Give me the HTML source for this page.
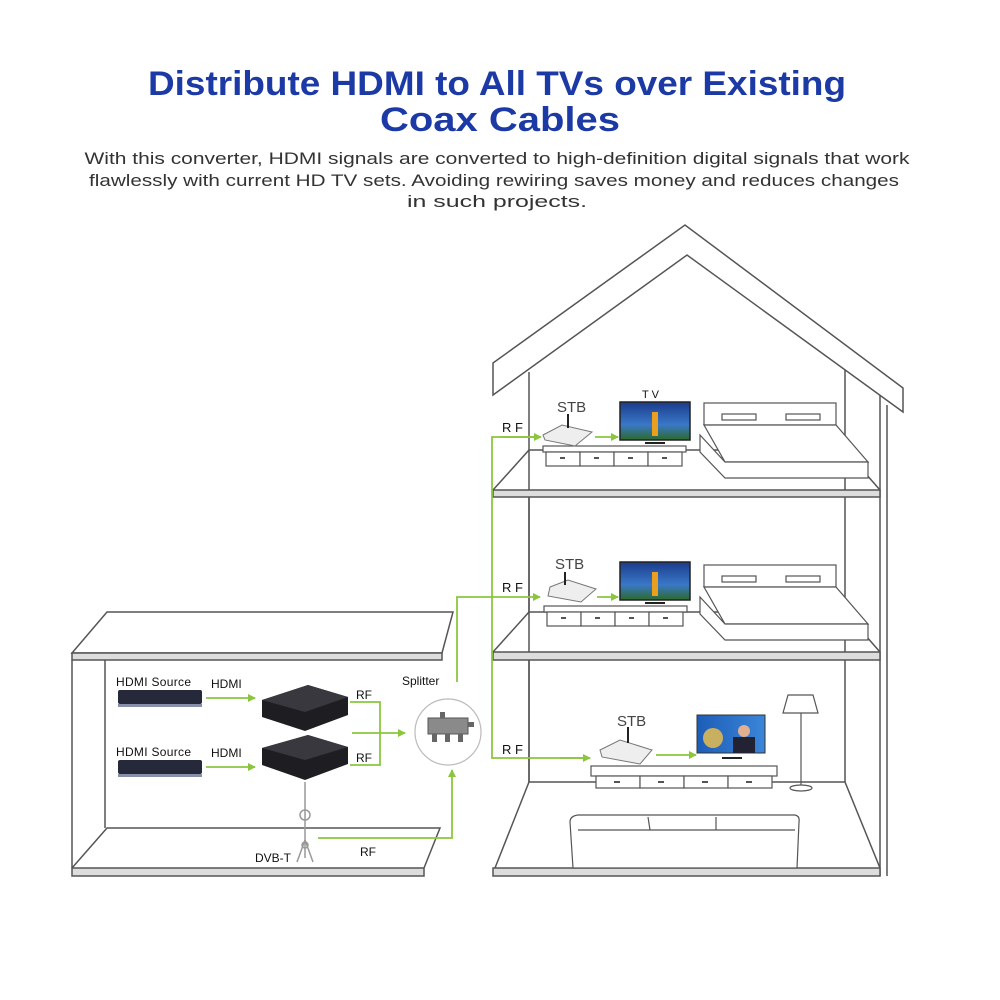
<!DOCTYPE html>
<html><head><meta charset="utf-8"><style>html,body{margin:0;padding:0;background:#fff}svg{display:block}</style></head>
<body>
<svg width="1000" height="1000" viewBox="0 0 1000 1000" xmlns="http://www.w3.org/2000/svg" font-family="Liberation Sans, sans-serif">
<defs>
<marker id="ah" markerWidth="8" markerHeight="8" refX="7" refY="4" orient="auto" markerUnits="userSpaceOnUse"><path d="M0,0 L8,4 L0,8 z" fill="#8cc63f"/></marker>
<linearGradient id="scr" x1="0" y1="0" x2="0" y2="1"><stop offset="0" stop-color="#1a3c8a"/><stop offset="0.6" stop-color="#3a78c8"/><stop offset="1" stop-color="#2c6a2a"/></linearGradient>
<linearGradient id="news" x1="0" y1="0" x2="1" y2="0"><stop offset="0" stop-color="#1d5db8"/><stop offset="1" stop-color="#3a86d8"/></linearGradient>
</defs>
<!-- Title -->
<text x="497" y="95" text-anchor="middle" font-size="34" font-weight="bold" fill="#1c3aa5" textLength="698" lengthAdjust="spacingAndGlyphs">Distribute HDMI to All TVs over Existing</text>
<text x="500" y="131" text-anchor="middle" font-size="34" font-weight="bold" fill="#1c3aa5" textLength="240" lengthAdjust="spacingAndGlyphs">Coax Cables</text>
<g font-size="17" fill="#333" text-anchor="middle">
<text x="497" y="164" textLength="825" lengthAdjust="spacingAndGlyphs">With this converter, HDMI signals are converted to high-definition digital signals that work</text>
<text x="494" y="186" textLength="810" lengthAdjust="spacingAndGlyphs">flawlessly with current HD TV sets. Avoiding rewiring saves money and reduces changes</text>
<text x="497" y="207" textLength="180" lengthAdjust="spacingAndGlyphs">in such projects.</text>
</g>

<g fill="none" stroke="#555" stroke-width="1.5">
<!-- House roof -->
<polygon points="493,363 685,225 903,388 903,412 687,255 493,395" fill="#fff"/>
<!-- walls -->
<line x1="529" y1="372" x2="529" y2="782"/>
<line x1="845" y1="370" x2="845" y2="782"/>
<line x1="880" y1="395" x2="880" y2="876"/>
<line x1="887" y1="405" x2="887" y2="876"/>
<!-- floor 1 -->
<polyline points="493,490 529,450 845,450 880,490"/>
<rect x="493" y="490" width="387" height="7" fill="#ddd"/>
<line x1="529" y1="497" x2="529" y2="612"/>
<!-- floor 2 -->
<polyline points="493,652 529,612 845,612 880,652"/>
<rect x="493" y="652" width="387" height="8" fill="#ddd"/>
<line x1="529" y1="660" x2="529" y2="782"/>
<!-- ground -->
<polyline points="495,868 529,782 845,782 880,868"/>
<rect x="493" y="868" width="387" height="8" fill="#ddd"/>

<!-- Left building -->
<polygon points="72,653 107,612 453,612 442,653"/>
<rect x="72" y="653" width="370" height="7" fill="#ddd"/>
<line x1="72" y1="660" x2="72" y2="868"/>
<line x1="105" y1="660" x2="105" y2="828"/>
<polyline points="72,868 107,828 440,828 424,868"/>
<rect x="72" y="868" width="352" height="8" fill="#ddd"/>
</g>

<!-- furniture -->
<g fill="#fff" stroke="#555" stroke-width="1.2">
<!-- floor1 cabinet -->
<rect x="543" y="446" width="143" height="6"/>
<rect x="546" y="452" width="34" height="14"/><rect x="580" y="452" width="34" height="14"/><rect x="614" y="452" width="34" height="14"/><rect x="648" y="452" width="34" height="14"/>
<!-- floor1 bed -->
<rect x="704" y="403" width="132" height="22"/>
<rect x="722" y="414" width="34" height="6"/><rect x="786" y="414" width="34" height="6"/>
<polygon points="704,425 836,425 868,462 725,462"/>
<polygon points="700,435 725,462 868,462 868,478 725,478 700,452"/>
<!-- floor2 cabinet -->
<rect x="544" y="606" width="143" height="6"/>
<rect x="547" y="612" width="34" height="14"/><rect x="581" y="612" width="34" height="14"/><rect x="615" y="612" width="34" height="14"/><rect x="649" y="612" width="34" height="14"/>
<!-- floor2 bed -->
<rect x="704" y="565" width="132" height="22"/>
<rect x="722" y="576" width="34" height="6"/><rect x="786" y="576" width="34" height="6"/>
<polygon points="704,587 836,587 868,624 725,624"/>
<polygon points="700,597 725,624 868,624 868,640 725,640 700,614"/>
<!-- floor3 cabinet -->
<rect x="591" y="766" width="186" height="10"/>
<rect x="596" y="776" width="44" height="12"/><rect x="640" y="776" width="44" height="12"/><rect x="684" y="776" width="44" height="12"/><rect x="728" y="776" width="44" height="12"/>
<!-- lamp -->
<polygon points="788,695 813,695 818,713 783,713"/>
<line x1="801" y1="713" x2="801" y2="787"/>
<ellipse cx="801" cy="788" rx="11" ry="3"/>
<!-- sofa -->
<path d="M570,822 Q570,816 578,815 L795,815 Q800,816 799,822 L797,868 L573,868 Z"/>
<line x1="578" y1="830" x2="795" y2="830"/>
<line x1="648" y1="817" x2="650" y2="830"/><line x1="716" y1="817" x2="716" y2="830"/>
</g>
<g fill="#555"><rect x="560" y="457" width="5" height="2"/><rect x="594" y="457" width="5" height="2"/><rect x="628" y="457" width="5" height="2"/><rect x="662" y="457" width="5" height="2"/>
<rect x="561" y="617" width="5" height="2"/><rect x="595" y="617" width="5" height="2"/><rect x="629" y="617" width="5" height="2"/><rect x="663" y="617" width="5" height="2"/>
<rect x="614" y="781" width="6" height="2"/><rect x="658" y="781" width="6" height="2"/><rect x="702" y="781" width="6" height="2"/><rect x="746" y="781" width="6" height="2"/></g>

<!-- TVs -->
<rect x="620" y="402" width="70" height="38" fill="url(#scr)" stroke="#222" stroke-width="1.5"/>
<rect x="652" y="412" width="6" height="24" fill="#e8a020"/>
<path d="M645,443 L665,443" stroke="#222" stroke-width="2"/>
<rect x="620" y="562" width="70" height="38" fill="url(#scr)" stroke="#222" stroke-width="1.5"/>
<rect x="652" y="572" width="6" height="24" fill="#e8a020"/>
<path d="M645,603 L665,603" stroke="#222" stroke-width="2"/>
<rect x="697" y="715" width="68" height="38" fill="url(#news)" stroke="#333"/>
<circle cx="713" cy="738" r="10" fill="#c8b060"/>
<rect x="733" y="737" width="22" height="16" fill="#223"/><circle cx="744" cy="731" r="6" fill="#e0b090"/>
<path d="M722,758 L742,758" stroke="#222" stroke-width="2"/>

<!-- STBs -->
<g fill="#eee" stroke="#777" stroke-width="1">
<polygon points="543,435 562,425 592,432 575,446 545,440"/>
<polygon points="550,587 568,580 596,589 581,602 548,596"/>
<polygon points="600,750 620,740 652,750 640,764 602,757"/>
</g>
<g stroke="#222" stroke-width="2"><line x1="568" y1="414" x2="568" y2="428"/><line x1="565" y1="572" x2="565" y2="585"/><line x1="628" y1="727" x2="628" y2="743"/></g>

<!-- Left devices -->
<rect x="118" y="690" width="84" height="14" rx="2" fill="#25293a"/><rect x="118" y="704" width="84" height="3" fill="#8890a8"/>
<rect x="118" y="760" width="84" height="14" rx="2" fill="#25293a"/><rect x="118" y="774" width="84" height="3" fill="#8890a8"/>
<polygon points="262,700 308,685 348,697 348,715 305,731 262,717" fill="#1e1e22"/>
<polygon points="262,700 308,685 348,697 305,712" fill="#38383e"/>
<polygon points="262,748 308,735 348,747 348,764 305,780 262,765" fill="#1e1e22"/>
<polygon points="262,748 308,735 348,747 305,760" fill="#38383e"/>
<!-- DVB-T tower -->
<g stroke="#999" stroke-width="1.5" fill="none"><line x1="305" y1="782" x2="305" y2="858"/><circle cx="305" cy="815" r="5"/><circle cx="305" cy="845" r="3"/><line x1="297" y1="862" x2="305" y2="840"/><line x1="313" y1="862" x2="305" y2="840"/></g>
<!-- splitter -->
<circle cx="448" cy="732" r="33" fill="#fff" stroke="#bbb" stroke-width="1.2"/>
<rect x="428" y="718" width="40" height="16" fill="#8a8a8a" stroke="#555"/>
<g fill="#666"><rect x="432" y="734" width="5" height="8"/><rect x="445" y="734" width="5" height="8"/><rect x="458" y="734" width="5" height="8"/><rect x="440" y="712" width="5" height="6"/><rect x="468" y="722" width="6" height="5"/></g>

<!-- green connectors -->
<g stroke="#8cc63f" stroke-width="1.8" fill="none">
<line x1="206" y1="698" x2="255" y2="698" marker-end="url(#ah)"/>
<line x1="206" y1="767" x2="255" y2="767" marker-end="url(#ah)"/>
<polyline points="350,702 380,702 380,765 350,765"/>
<line x1="352" y1="733" x2="405" y2="733" marker-end="url(#ah)"/>
<polyline points="318,838 452,838 452,770" marker-end="url(#ah)"/>
<polyline points="457,682 457,597 540,597" marker-end="url(#ah)"/>
<polyline points="540,437 492,437 492,758 588,758" />
<line x1="500" y1="437" x2="541" y2="437" marker-end="url(#ah)"/>
<line x1="560" y1="758" x2="590" y2="758" marker-end="url(#ah)"/>
<line x1="595" y1="437" x2="618" y2="437" marker-end="url(#ah)"/>
<line x1="597" y1="597" x2="618" y2="597" marker-end="url(#ah)"/>
<line x1="656" y1="755" x2="696" y2="755" marker-end="url(#ah)"/>
</g>

<!-- labels -->
<g font-size="12" fill="#111">
<text x="116" y="686" letter-spacing="0.3">HDMI Source</text>
<text x="116" y="756" letter-spacing="0.3">HDMI Source</text>
<text x="211" y="688">HDMI</text>
<text x="211" y="757">HDMI</text>
<text x="356" y="699">RF</text>
<text x="356" y="762">RF</text>
<text x="402" y="685">Splitter</text>
<text x="255" y="862">DVB-T</text>
<text x="360" y="856">RF</text>
<text x="502" y="432" font-size="13">R F</text>
<text x="502" y="592" font-size="13">R F</text>
<text x="502" y="754" font-size="13">R F</text>
<text x="642" y="398" font-size="11">T V</text>
</g>
<g font-size="15" fill="#444">
<text x="557" y="412">STB</text>
<text x="555" y="569">STB</text>
<text x="617" y="726">STB</text>
</g>
</svg>
</body></html>
